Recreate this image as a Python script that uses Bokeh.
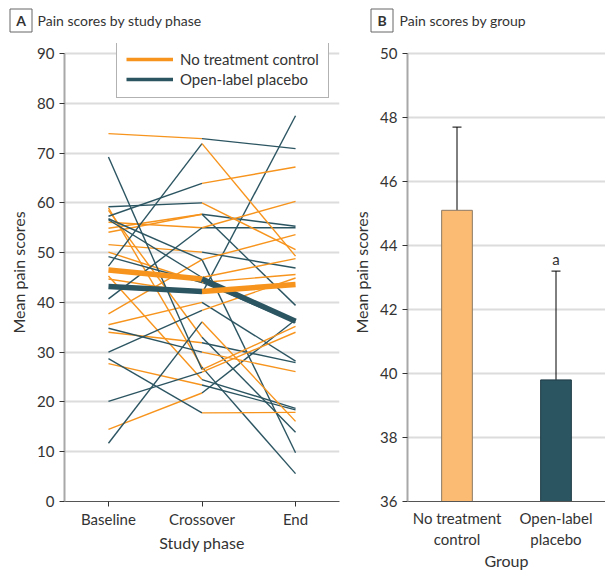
from bokeh.plotting import figure
from bokeh.layouts import row, column
from bokeh.models import (ColumnDataSource, Range1d, FixedTicker, Legend, LegendItem,
                          Label, Whisker, TeeHead)
from bokeh.embed import file_html
from bokeh.resources import INLINE

# ---------------- data ----------------
phase_labels = ["Baseline", "Crossover", "End"]
y_ticks_a = [0, 10, 20, 30, 40, 50, 60, 70, 80, 90]

# participants who had no treatment first, then open-label placebo
ntc_first_baseline = [73.9, 59.0, 58.5, 56.1, 54.9, 54.1, 51.6, 50.1, 45.3, 44.7, 37.7, 35.5, 34.0, 27.7, 14.5]
ntc_first_crossover = [72.9, 27.0, 33.0, 55.0, 57.7, 57.7, 50.1, 44.0, 24.5, 41.8, 48.6, 40.0, 31.9, 23.4, 21.8]
ntc_first_end = [70.9, 5.6, 13.9, 55.0, 55.3, 39.4, 46.9, 36.0, 18.7, 77.5, 9.8, 28.2, 27.9, 18.4, 36.5]

# participants who had open-label placebo first, then no treatment
olp_first_baseline = [69.2, 59.2, 57.3, 56.8, 49.2, 47.3, 40.7, 34.8, 30.0, 28.7, 20.1, 11.7, 56.6]
olp_first_crossover = [26.5, 60.0, 63.9, 48.6, 44.0, 71.9, 55.0, 30.0, 38.4, 17.8, 26.0, 36.1, 45.0]
olp_first_end = [35.2, 50.6, 67.2, 53.6, 45.6, 49.3, 60.3, 26.1, 44.9, 17.9, 34.0, 16.1, 48.8]

# group means by phase
mean_ntc_first = [46.5, 44.7, 36.2]
mean_olp_first = [43.2, 42.2, 43.6]

conditions = ["No treatment control", "Open-label placebo"]

# panel B
groups = ["No treatment control", "Open-label placebo"]
group_labels = ["No treatment\ncontrol", "Open-label\nplacebo"]
group_means = [45.1, 39.8]
group_upper = [47.7, 43.2]
group_marks = ["", "a"]
y_ticks_b = [36, 38, 40, 42, 44, 46, 48, 50]

panel_letters = ["A", "B"]
panel_titles = ["Pain scores by study phase", "Pain scores by group"]

# ---------------- style ----------------
ORANGE = "#F7941D"
TEAL = "#2C5562"
BAR_ORANGE = "#FBBB72"
cond_color = {conditions[0]: ORANGE, conditions[1]: TEAL}
FONT = "Lato"
TXT = "#333333"
GRID = "#dcdcdc"
FRAME_H = 458          # 448 px for the axis span + 10 px headroom for the legend
HEAD_PX = 10


def style_axes(p):
    for ax in (p.xaxis[0], p.yaxis[0]):
        ax.major_label_text_font = FONT
        ax.major_label_text_font_size = "15px"
        ax.major_label_text_color = TXT
        ax.axis_label_text_font = FONT
        ax.axis_label_text_font_size = "16px"
        ax.axis_label_text_font_style = "normal"
        ax.axis_label_text_color = TXT
        ax.major_tick_in = 0
        ax.major_tick_out = 5
        ax.minor_tick_out = 0
        ax.minor_tick_in = 0
        ax.major_tick_line_color = "#333333"
    p.yaxis.axis_line_color = "#a8a8a8"
    p.yaxis.axis_line_width = 2
    p.xaxis.axis_line_color = "#555555"
    p.xaxis.axis_line_width = 1
    p.xgrid.visible = False
    p.ygrid.grid_line_color = GRID
    p.ygrid.grid_line_width = 2
    p.outline_line_color = None


def padded_range(lo, hi):
    span = hi - lo
    return Range1d(lo, hi + span * HEAD_PX / (FRAME_H - HEAD_PX))


# ---------------- header ----------------
HDR_W, HDR_H = 605, 43
hdr = figure(width=HDR_W, height=HDR_H, x_range=Range1d(0, HDR_W), y_range=Range1d(0, HDR_H),
             output_backend="svg", toolbar_location=None, min_border=0)
hdr.axis.visible = False
hdr.grid.visible = False
hdr.outline_line_color = None
box_x = [20.5, 381.5]
text_x = [37, 399]
hdr.rect(x=box_x, y=[23, 23], width=22, height=23, fill_color="white",
         line_color="#666666", line_width=1)
for letter, title, bx, tx in zip(panel_letters, panel_titles, box_x, text_x):
    hdr.add_layout(Label(x=bx, y=23, text=letter, text_align="center", text_baseline="middle",
                         text_font=FONT, text_font_size="14px", text_font_style="bold",
                         text_color=TXT))
    hdr.add_layout(Label(x=tx, y=23, text=title, text_align="left", text_baseline="middle",
                         text_font=FONT, text_font_size="14px", text_color=TXT))

# ---------------- panel A ----------------
pA = figure(frame_width=275, frame_height=FRAME_H, x_range=Range1d(-0.47, 2.47),
            y_range=padded_range(y_ticks_a[0], y_ticks_a[-1]),
            output_backend="svg", toolbar_location=None,
            min_border_left=64, min_border_right=8, min_border_top=0, min_border_bottom=76)
style_axes(pA)
pA.xaxis.ticker = FixedTicker(ticks=list(range(len(phase_labels))))
pA.xaxis.major_label_overrides = {i: lab for i, lab in enumerate(phase_labels)}
pA.yaxis.ticker = FixedTicker(ticks=y_ticks_a)
pA.yaxis.bounds = (y_ticks_a[0], y_ticks_a[-1])
pA.xaxis.axis_label = "Study phase"
pA.yaxis.axis_label = "Mean pain scores"
pA.yaxis.axis_label_standoff = 6
pA.xaxis.axis_label_standoff = 2
pA.xaxis.major_label_standoff = 3


def segments(b, c, e, first, second):
    seg = dict(x0=[], y0=[], x1=[], y1=[], color=[], cond=[])
    for vb, vc, ve in zip(b, c, e):
        for (xa, ya, xb, yb, cond) in ((0, vb, 1, vc, first), (1, vc, 2, ve, second)):
            seg["x0"].append(xa); seg["y0"].append(ya)
            seg["x1"].append(xb); seg["y1"].append(yb)
            seg["color"].append(cond_color[cond]); seg["cond"].append(cond)
    return seg


s1 = segments(ntc_first_baseline, ntc_first_crossover, ntc_first_end, conditions[0], conditions[1])
s2 = segments(olp_first_baseline, olp_first_crossover, olp_first_end, conditions[1], conditions[0])
all_seg = {k: s1[k] + s2[k] for k in s1}
pA.segment(x0="x0", y0="y0", x1="x1", y1="y1", color="color", line_width=1.4,
           source=ColumnDataSource(all_seg))

m1 = segments([mean_ntc_first[0]], [mean_ntc_first[1]], [mean_ntc_first[2]], conditions[0], conditions[1])
m2 = segments([mean_olp_first[0]], [mean_olp_first[1]], [mean_olp_first[2]], conditions[1], conditions[0])
mean_seg = {k: m1[k] + m2[k] for k in m1}
pA.segment(x0="x0", y0="y0", x1="x1", y1="y1", color="color", line_width=5.5,
           source=ColumnDataSource(mean_seg))

# legend-only renderers (no visible data)
leg_items = []
for cond in conditions:
    r = pA.line(x=[float("nan")], y=[float("nan")], line_color=cond_color[cond], line_width=3.5)
    leg_items.append(LegendItem(label=cond, renderers=[r]))
legend = Legend(items=leg_items, location=(52, 403), padding=9, spacing=2,
                glyph_width=47, glyph_height=18, label_height=18, label_standoff=7,
                label_text_font=FONT, label_text_font_size="15px", label_text_color=TXT,
                border_line_color="#666666", border_line_width=1, background_fill_alpha=1,
                margin=0)
pA.add_layout(legend)

# ---------------- panel B ----------------
group_x = [i + 0.5 for i in range(len(groups))]
pB = figure(frame_width=198, frame_height=FRAME_H, x_range=Range1d(0, len(groups)),
            y_range=padded_range(y_ticks_b[0], y_ticks_b[-1]),
            output_backend="svg", toolbar_location=None,
            min_border_left=60, min_border_right=0, min_border_top=0, min_border_bottom=76)
style_axes(pB)
pB.xaxis.ticker = FixedTicker(ticks=group_x)
pB.xaxis.major_label_overrides = {x: lab for x, lab in zip(group_x, group_labels)}
pB.yaxis.ticker = FixedTicker(ticks=y_ticks_b)
pB.yaxis.bounds = (y_ticks_b[0], y_ticks_b[-1])
pB.xaxis.major_tick_line_color = None
pB.xaxis.axis_label = "Group"
pB.yaxis.axis_label = "Mean pain scores"
pB.yaxis.axis_label_standoff = 6
pB.xaxis.axis_label_standoff = 0
pB.xaxis.major_label_standoff = 2

bar_src = ColumnDataSource(dict(x=group_x, top=group_means, upper=group_upper,
                                fill=[BAR_ORANGE, TEAL], line=["#8c7a66", "#1d3a44"]))
pB.add_layout(Whisker(base="x", lower="top", upper="upper", source=bar_src, dimension="height",
                      line_color="black", line_width=1, lower_head=None,
                      upper_head=TeeHead(size=9, line_color="black", line_width=1)))
pB.vbar(x="x", top="top", bottom=0, width=0.31, fill_color="fill", line_color="line",
        line_width=1, source=bar_src)
for gx, up, mark in zip(group_x, group_upper, group_marks):
    if mark:
        pB.add_layout(Label(x=gx, y=up, y_offset=12, text=mark, text_align="center",
                            text_baseline="alphabetic", text_font=FONT, text_font_size="15px",
                            text_color=TXT))

layout = column(hdr, row(pA, pB))
open("out.html", "w").write(file_html(layout, INLINE))
